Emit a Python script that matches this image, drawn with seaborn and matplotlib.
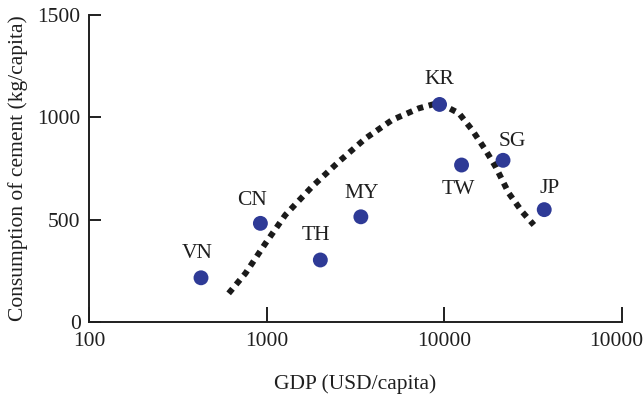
import matplotlib
matplotlib.use("Agg")
import matplotlib.pyplot as plt
import seaborn as sns
import pandas as pd

# Country data: GDP per capita (USD) and cement consumption (kg per capita)
countries = ["VN", "CN", "TH", "MY", "KR", "TW", "SG", "JP"]
gdp = [427, 922, 2005, 3390, 9400, 12500, 21400, 36500]
cement = [216, 482, 303, 514, 1063, 767, 790, 549]

# Trend curve drawn through the cloud
trend_gdp = [611, 760, 984, 1274, 1800, 2545, 3600, 5080, 7180, 9300,
             12080, 14350, 17060, 19420, 23070, 27400, 31900]
trend_cement = [140, 238, 384, 523, 661, 783, 897, 987, 1044, 1071,
                1020, 938, 840, 759, 629, 539, 474]

x_ticks = [100, 1000, 10000, 100000]
x_tick_labels = ["100", "1000", "10000", "100000"]
y_ticks = [0, 500, 1000, 1500]

sns.set_style("ticks")
plt.rcParams["font.family"] = ["Liberation Serif", "DejaVu Serif"]

FS = 15.5
INK = "#1f1f1f"

points = pd.DataFrame({"country": countries, "gdp": gdp, "cement": cement})
trend = pd.DataFrame({"gdp": trend_gdp, "cement": trend_cement})

fig = plt.figure(figsize=(6.43, 3.94), dpi=100)
ax = fig.add_axes([89 / 643, 1 - 322 / 394, (622 - 89) / 643, (322 - 15) / 394])

sns.lineplot(data=trend, x="gdp", y="cement", sort=False, ax=ax,
             color="#1a1a1a", linewidth=4.3, linestyle=(0, (1.0, 0.95)),
             dash_capstyle="butt")
sns.scatterplot(data=points, x="gdp", y="cement", ax=ax, s=115,
                color="#2e3a96", edgecolor="none", zorder=3)

# Country labels placed around each point (offsets in pixels)
offsets = {"VN": (-4, 24), "CN": (-8, 23), "TH": (-4, 24), "MY": (1, 23),
           "KR": (0, 25), "TW": (-3, -24), "SG": (9, 19), "JP": (5, 21)}
for c, gx, cy in zip(countries, gdp, cement):
    dx, dy = offsets[c]
    ax.annotate(c, (gx, cy), xytext=(dx, dy), textcoords="offset pixels",
                ha="center", va="center", fontsize=FS, color=INK)

ax.set_xscale("log")
ax.set_xlim(100, 100000)
ax.set_ylim(0, 1500)
ax.set_xticks(x_ticks)
ax.set_xticklabels(x_tick_labels)
ax.xaxis.set_minor_locator(matplotlib.ticker.NullLocator())
ax.set_yticks(y_ticks)

ax.tick_params(axis="both", direction="in", labelsize=FS, colors=INK,
               width=1.4)
ax.tick_params(axis="x", length=11, pad=7)
ax.tick_params(axis="y", length=8.5, pad=6)

sns.despine(ax=ax)
for side in ("left", "bottom"):
    ax.spines[side].set_linewidth(1.4)
    ax.spines[side].set_color(INK)

ax.set_xlabel("GDP (USD/capita)", fontsize=FS, color=INK, labelpad=17)
ax.set_ylabel("Consumption of cement (kg/capita)", fontsize=FS,
              color=INK, labelpad=7)

fig.savefig("out.png", dpi=100)
